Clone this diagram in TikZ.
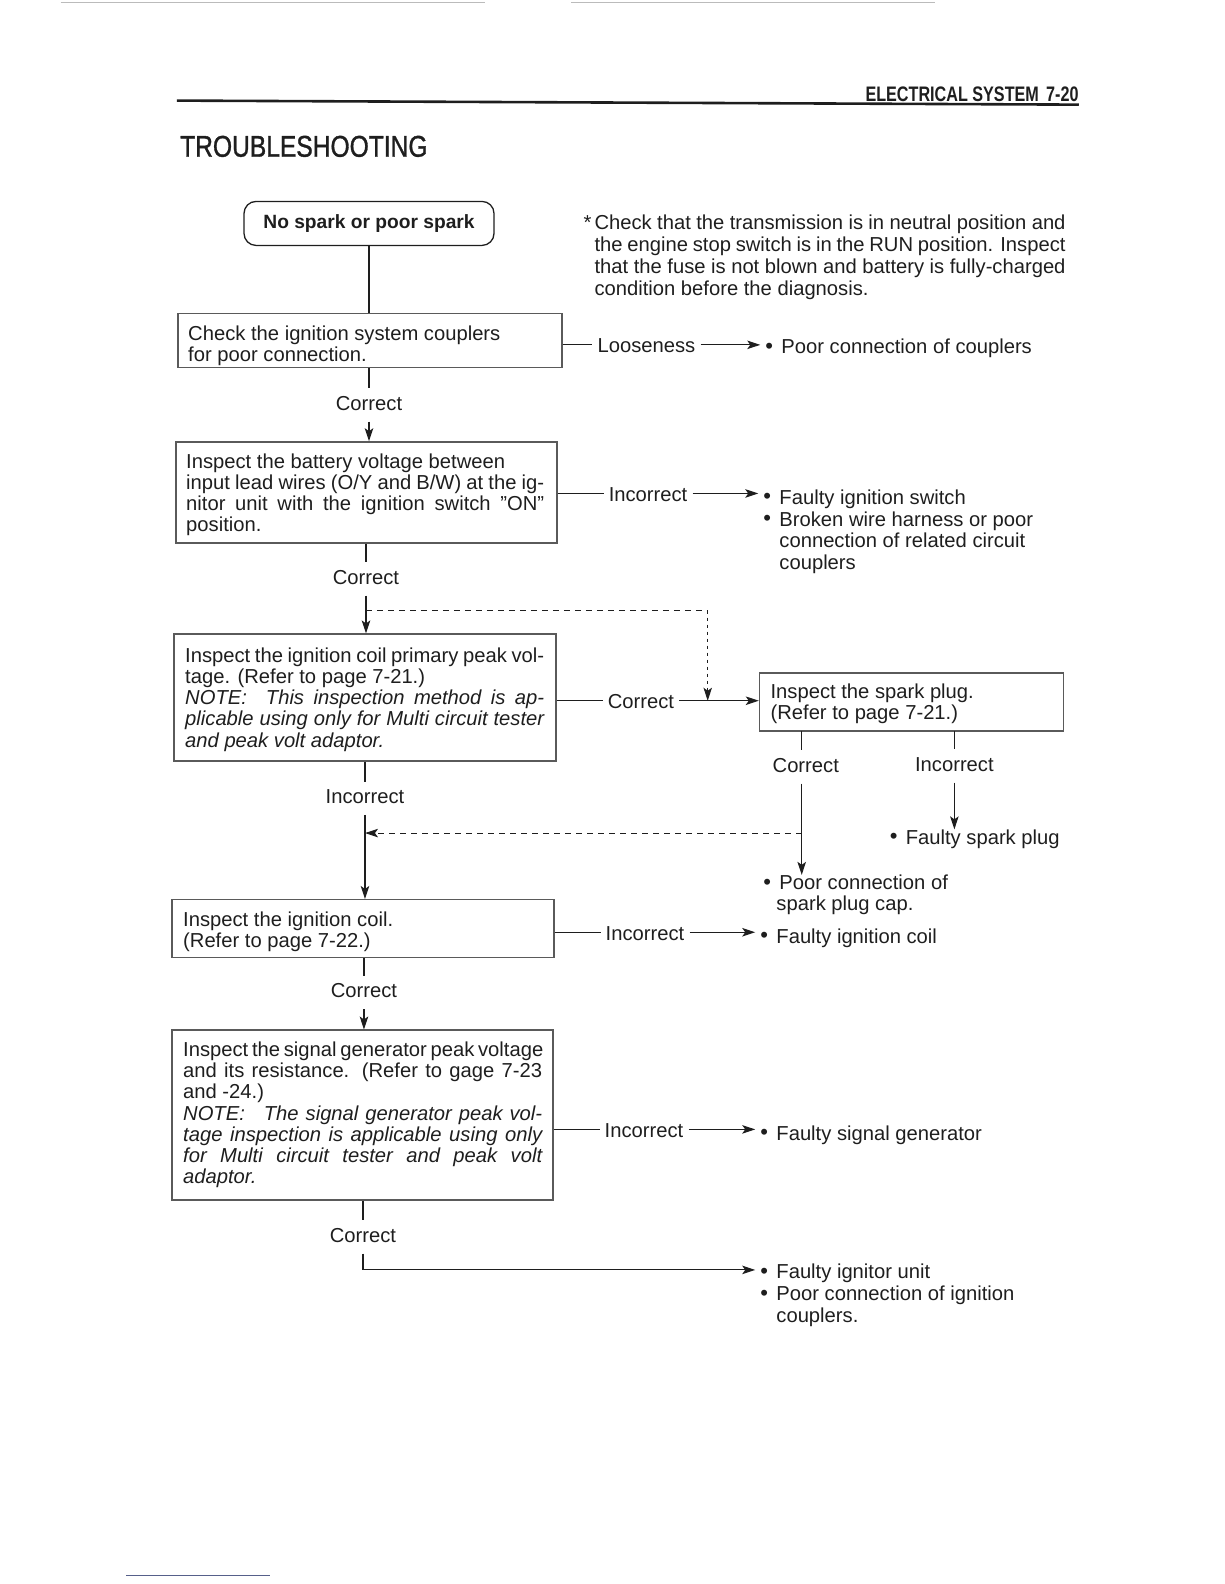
\documentclass[tikz,border=0pt]{standalone}
\usepackage{fontspec}
\setmainfont{Liberation Sans}
\newfontfamily\titlefont[FakeBold=1.2]{Liberation Sans}
\usepackage{graphicx}
\usetikzlibrary{arrows.meta}
\definecolor{ink}{HTML}{1E1E1E}
\definecolor{boxc}{HTML}{5A5A5A}
\definecolor{scan}{HTML}{BBBBBB}
\definecolor{blueline}{HTML}{56608A}
\newcommand{\tlines}[2][21.2]{\vtop{\baselineskip=#1pt\lineskiplimit=-30pt\lineskip=0pt\relax #2}}
\newcommand{\jl}[2]{\hbox to #1pt{#2}}
\newcommand{\rl}[1]{\hbox{#1}}
\newcommand{\bul}{\makebox[16pt][l]{\raisebox{0.5pt}{\fontsize{22}{22}\selectfont •}}}
\newcommand{\ind}{\hspace*{16pt}}
\begin{document}
\begin{tikzpicture}[x=1pt,y=-1pt]
\useasboundingbox (0,0) rectangle (1224,1584);
\begin{scope}[x=1.011pt,y=-1.011pt,
  every node/.style={text=ink, font=\fontsize{20.2}{21}\selectfont},
  ln/.style={draw=ink, line width=1.1pt},
  tip/.style={-{Stealth[length=13pt,width=8.5pt,inset=3pt]}},
  arr/.style={ln, tip},
  dsh/.style={draw=ink, line width=1pt, dash pattern=on 6pt off 5pt},
  boxn/.style={draw=boxc, line width=1.3pt, rectangle, inner sep=0pt},
  startn/.style={draw=ink, line width=1.3pt, rectangle, rounded corners=12pt, minimum width=250pt, minimum height=44pt, inner sep=0pt},
  txt/.style={anchor=base west, inner sep=0pt},
  lab/.style={anchor=base, inner xsep=0pt, inner ysep=8pt, text height=14pt, text depth=3pt},
  hlab/.style={anchor=base west, inner xsep=5pt, inner ysep=0pt, text height=16pt, text depth=0pt},
  res/.style={anchor=base west, inner xsep=5pt, inner ysep=0pt}
]

% scan artefacts and header rule
\draw[scan, line width=0.8pt] (60,2) -- (480,2);
\draw[scan, line width=0.8pt] (565,2) -- (925,2);
\draw[draw=ink, line width=2.6pt] (175,99.5) -- (1067,103.5);
\draw[blueline, line width=1pt] (125,1558) -- (267,1558);

\node[anchor=base east, inner sep=0pt] (hdr) at (1067,100.5) {\scalebox{0.77}[1]{\fontsize{21}{21}\selectfont\bfseries ELECTRICAL SYSTEM\hspace{0.45em}7-20}};
\node[anchor=base west, inner sep=0pt] (title) at (178,155) {\scalebox{0.82}[1]{\fontsize{30}{30}\titlefont TROUBLESHOOTING}};

% top note
\node[txt] (note) at (577,227) {\tlines[21.9]{%
\jl{482}{\makebox[11pt][l]{*}Check that the transmission is in neutral position and}%
\jl{482}{\hspace*{11pt}the engine stop switch is in the RUN position. Inspect}%
\jl{482}{\hspace*{11pt}that the fuse is not blown and battery is fully-charged}%
\rl{\hspace*{11pt}condition before the diagnosis.}}};

% start
\node[startn] (start) at (365,221) {\fontsize{19.2}{19}\selectfont\bfseries No spark or poor spark};

% box 1
\node[boxn, minimum width=384pt, minimum height=54pt] (b1) at (366,336.5) {};
\node[txt] (t1) at (186,337) {\tlines{\rl{Check the ignition system couplers}\rl{for poor connection.}}};
\draw[ln] (start.south) -- (start.south |- b1.north);
\node[hlab] (l1) at (586,349) {Looseness};
\node[res] (r1) at (752,350) {\bul Poor connection of couplers};
\draw[ln] (b1.east |- l1.west) -- (l1.west);
\draw[arr] (l1.east) -- (l1.east -| r1.west);

% correct 1
\node[lab] (c1) at (365,406) {Correct};
\draw[ln] (c1.north |- b1.south) -- (c1.north);

% box 2
\node[boxn, minimum width=381pt, minimum height=101pt] (b2) at (362.5,487) {};
\draw[arr] (c1.south) -- (c1.south |- b2.north);
\node[txt] (t2) at (184,463) {\tlines{%
\rl{Inspect the battery voltage between}%
\jl{358}{input lead wires (O/Y and B/W) at the ig-}%
\jl{358}{nitor unit with the ignition switch ''ON''}%
\rl{position.}}};
\node[hlab] (l2) at (597,496) {Incorrect};
\node[res] (r2) at (750,499) {\tlines[21.7]{%
\rl{\bul Faulty ignition switch}%
\rl{\bul Broken wire harness or poor}%
\rl{\ind connection of related circuit}%
\rl{\ind couplers}}};
\draw[ln] (b2.east |- l2.west) -- (l2.west);
\draw[arr] (l2.east) -- (l2.east -| r2.west);

% correct 2
\node[lab] (c2) at (362,578) {Correct};
\draw[ln] (c2.north |- b2.south) -- (c2.north);

% box 3
\node[boxn, minimum width=382pt, minimum height=127pt] (b3) at (361,690) {};
\draw[arr] (c2.south) -- (c2.south |- b3.north);
\node[txt] (t3) at (183,655) {\tlines{%
\jl{359}{Inspect the ignition coil primary peak vol-}%
\rl{tage. (Refer to page 7-21.)}%
\jl{359}{\itshape NOTE:\ \ This inspection method is ap-}%
\jl{359}{\itshape plicable using only for Multi circuit tester}%
\rl{\itshape and peak volt adaptor.}}};

% spark plug box
\node[boxn, minimum width=304pt, minimum height=58pt] (sp) at (901.5,694.5) {};
\node[txt] (tsp) at (762,691) {\tlines{\rl{Inspect the spark plug.}\rl{(Refer to page 7-21.)}}};

\node[hlab] (l3) at (596,701) {Correct};
\draw[ln] (b3.east |- l3.west) -- (l3.west);
\draw[arr] (l3.east) -- (l3.east -| sp.west);

% dashed bypass from correct 2 to spark plug
\coordinate (d1) at (362,604);
\coordinate (d2) at (700,604);
\draw[dsh] (d1) -- (d2);
\draw[dsh, tip, dash pattern=on 3pt off 4pt] (d2) -- (d2 |- l3.east);

% spark plug branches
\coordinate (spL) at (793,723);
\coordinate (spR) at (944,723);
\node[lab] (c4) at (797,764) {Correct};
\node[lab] (c5) at (944,763) {Incorrect};
\node[res] (r4) at (750,880) {\tlines{\rl{\bul Poor connection of}\rl{\hspace*{13pt}spark plug cap.}}};
\node[res] (r5) at (875,835) {\bul Faulty spark plug};
\draw[ln] (spL) -- (spL |- c4.north);
\draw[arr] (spL |- c4.south) -- (spL |- r4.north);
\draw[ln] (spR) -- (spR |- c5.north);
\draw[arr] (spR |- c5.south) -- (spR |- r5.north);

% incorrect below box 3
\node[lab] (c6) at (361,795) {Incorrect};
\draw[ln] (c6.north |- b3.south) -- (c6.north);
\coordinate (d3) at (793,824);
\draw[dsh, tip] (d3) -- (d3 -| c6.south);

% box 4
\node[boxn, minimum width=382pt, minimum height=58pt] (b4) at (359,918.5) {};
\draw[arr] (c6.south) -- (c6.south |- b4.north);
\node[txt] (t4) at (181,916) {\tlines{\rl{Inspect the ignition coil.}\rl{(Refer to page 7-22.)}}};
\node[hlab] (l4) at (594,930) {Incorrect};
\node[res] (r6) at (747,933) {\bul Faulty ignition coil};
\draw[ln] (b4.east |- l4.west) -- (l4.west);
\draw[arr] (l4.east) -- (l4.east -| r6.west);

% correct 4
\node[lab] (c7) at (360,987) {Correct};
\draw[ln] (c7.north |- b4.south) -- (c7.north);

% box 5
\node[boxn, minimum width=381pt, minimum height=170pt] (b5) at (358.5,1103) {};
\draw[arr] (c7.south) -- (c7.south |- b5.north);
\node[txt] (t5) at (181,1045) {\tlines{%
\jl{359}{Inspect the signal generator peak voltage}%
\jl{359}{and its resistance. (Refer to gage 7-23}%
\rl{and -24.)}%
\jl{359}{\itshape NOTE:\hspace{12pt} The signal generator peak vol-}%
\jl{359}{\itshape tage inspection is applicable using only}%
\jl{359}{\itshape for Multi circuit tester and peak volt}%
\rl{\itshape adaptor.}}};
\node[hlab] (l5) at (593,1125) {Incorrect};
\node[res] (r7) at (747,1128) {\bul Faulty signal generator};
\draw[ln] (b5.east |- l5.west) -- (l5.west);
\draw[arr] (l5.east) -- (l5.east -| r7.west);

% final
\node[lab] (c8) at (359,1229) {Correct};
\draw[ln] (c8.north |- b5.south) -- (c8.north);
\node[res] (r8) at (747,1265) {\tlines[21.7]{%
\rl{\bul Faulty ignitor unit}%
\rl{\bul Poor connection of ignition}%
\rl{\ind couplers.}}};
\draw[arr] (c8.south) |- ([yshift=9pt]r8.base west);
\end{scope}
\end{tikzpicture}
\end{document}
